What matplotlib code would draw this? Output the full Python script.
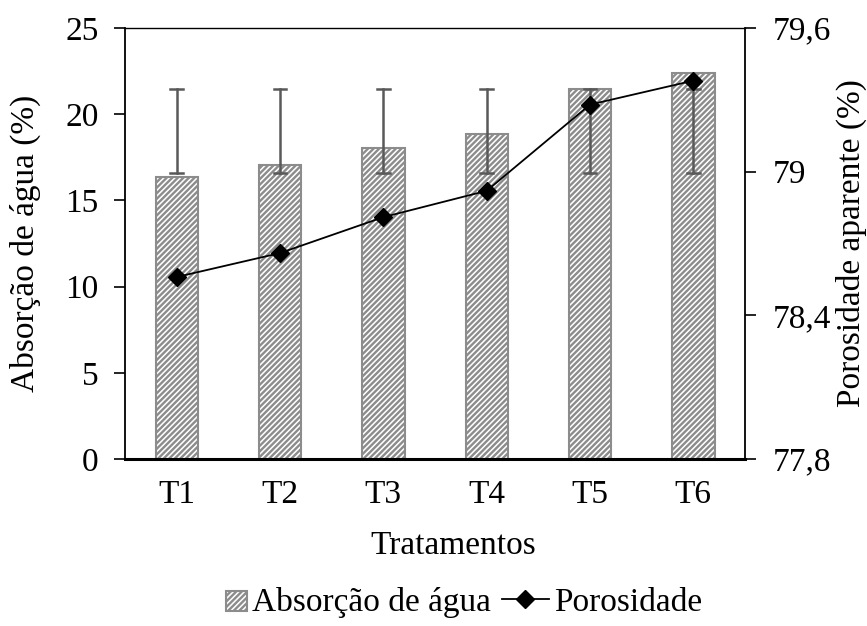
import matplotlib.pyplot as plt
import numpy as np
from matplotlib.ticker import FuncFormatter
from matplotlib.legend_handler import HandlerPatch
from matplotlib.patches import Rectangle

# data
tratamentos = ["T1", "T2", "T3", "T4", "T5", "T6"]
absorcao = [16.37, 17.05, 18.04, 18.85, 21.44, 22.41]
erro_inf = [16.6, 16.6, 16.6, 16.6, 16.6, 16.6]
erro_sup = [21.46, 21.46, 21.46, 21.46, 21.46, 21.46]
porosidade = [78.56, 78.66, 78.81, 78.92, 79.28, 79.38]

plt.rcParams["font.family"] = "Liberation Serif"
plt.rcParams["font.size"] = 24
plt.rcParams["hatch.linewidth"] = 1.7
plt.rcParams["hatch.color"] = "#808080"

fig = plt.figure(figsize=(8.67, 6.26), dpi=100)
ax = fig.add_axes([0.1442, 0.2668, 0.7151, 0.6885])

x = np.arange(len(tratamentos))
bars = ax.bar(x, absorcao, width=0.41, color="white", edgecolor="#8c8c8c",
              linewidth=1.5, hatch="//////", label="Absorção de água", zorder=2)

# error bars between lower and upper values
for xi, lo, hi in zip(x, erro_inf, erro_sup):
    ax.plot([xi, xi], [lo, hi], color="#595959", lw=1.8, zorder=3)
    ax.plot([xi - 0.06, xi + 0.06], [lo, lo], color="#595959", lw=1.8, zorder=3)
    ax.plot([xi - 0.06, xi + 0.06], [hi, hi], color="#595959", lw=1.8, zorder=3)

ax.set_xlim(-0.5, 5.5)
ax.set_ylim(0, 25)
ax.set_yticks([0, 5, 10, 15, 20, 25])
ax.set_xticks(x)
ax.set_xticklabels(tratamentos)
ax.tick_params(axis="x", length=0, pad=15)
ax.tick_params(axis="y", length=8, width=1.2, direction="out", pad=11)
ax.set_ylabel("Absorção de água (%)")
ax.yaxis.set_label_coords(-0.135, 0.5)
ax.set_xlabel("Tratamentos")
ax.xaxis.set_label_coords(0.53, -0.165)
ax.spines["top"].set_linewidth(1.0)
ax.spines["left"].set_linewidth(1.3)
ax.spines["bottom"].set_linewidth(2.2)
ax.spines["right"].set_visible(False)

ax2 = ax.twinx()
line, = ax2.plot(x, porosidade, color="black", lw=1.3, marker="D",
                 markersize=9, label="Porosidade", zorder=4)
ax2.set_ylim(77.8, 79.6)
ax2.set_yticks([77.8, 78.4, 79.0, 79.6])
ax2.yaxis.set_major_formatter(FuncFormatter(
    lambda v, p: ("%g" % round(v, 1)).replace(".", ",")))
ax2.tick_params(axis="y", length=8, width=1.2, direction="out", pad=12)
ax2.set_ylabel("Porosidade aparente (%)")
ax2.yaxis.set_label_coords(1.146, 0.5)
ax2.spines["top"].set_visible(False)
ax2.spines["left"].set_visible(False)
ax2.spines["bottom"].set_visible(False)
ax2.spines["right"].set_linewidth(1.3)


def small_patch(legend, orig_handle, xdescent, ydescent, width, height, fontsize):
    w = width * 0.45
    return Rectangle((width - w - xdescent, -ydescent), w, height * 0.85)


bar_handle = bars.patches[0]
fig.legend([bar_handle, line], ["Absorção de água", "Porosidade"], loc="center",
           bbox_to_anchor=(0.52, 0.038), ncol=2, frameon=False,
           handlelength=1.4, handletextpad=0.15, columnspacing=0.35,
           handleheight=0.7,
           handler_map={bar_handle: HandlerPatch(patch_func=small_patch)})

fig.savefig("out.png", dpi=100)
